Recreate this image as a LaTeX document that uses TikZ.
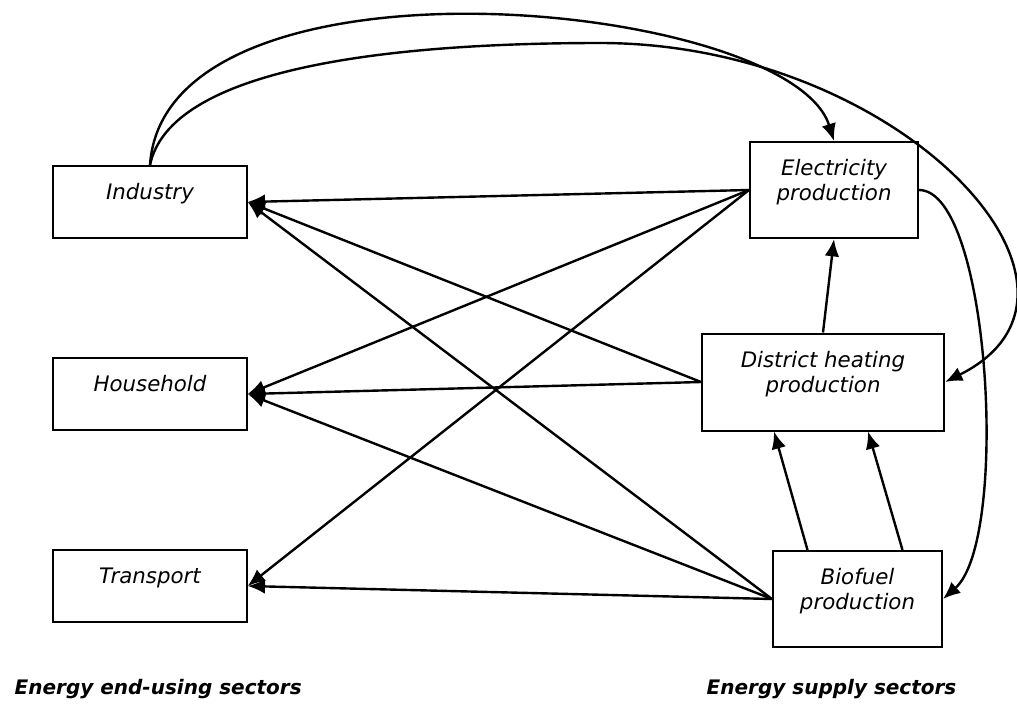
\documentclass[tikz,border=0pt]{standalone}
\usepackage{fontspec}
\setmainfont{DejaVu Sans}
\usetikzlibrary{
	positioning		% relative placement
	, arrows.meta		% Latex tips with set size
	, calc			% shifted anchors
}

\begin{document}
\begin{tikzpicture}[
		x=0.75pt, y=-0.75pt,
		sector/.style={
			rectangle,
			draw=black, line width=1.5pt,
			align=center,
			inner sep=0pt,
			font=\fontsize{16pt}{19pt}\selectfont\itshape,
			text height=12pt,
			text depth=15.5pt
		},
		sector two/.style={
			sector,
			text height=31pt
		},
		arrow/.style={
			->,
			line width=1.8pt
		},
		caption/.style={
			anchor=base west,
			font=\fontsize{15pt}{18pt}\selectfont\bfseries\itshape
		},
		>={Latex[length=13pt,width=11pt]}]

	\useasboundingbox (0,0) rectangle (1017,704);

	%%% Energy end-using sectors
	\node [sector, minimum width=145pt, minimum height=54pt] (industry) at (150,202) {Industry};
	\node [sector, minimum width=145pt, minimum height=54pt] (household) at (150,394) {Household};
	\node [sector, minimum width=145pt, minimum height=54pt] (transport) at (150,586) {Transport};

	%%% Energy supply sectors
	\node [sector two, minimum width=126pt, minimum height=72pt] (electricity) at (834,190) {Electricity\\production};
	\node [sector two, minimum width=181.5pt, minimum height=72.75pt] (district) at (823,382) {District heating\\production};
	\node [sector two, minimum width=126.75pt, minimum height=72pt] (biofuel) at (857.5,599) {Biofuel\\production};

	\node [caption] (enduse) at (10,694) {Energy end-using sectors};
	\node [caption] (supply) at (702,694) {Energy supply sectors};

	%%% Supply to end use
	\foreach \src/\dst in {electricity/industry, electricity/household, electricity/transport,
		district/industry, district/household,
		biofuel/industry, biofuel/household, biofuel/transport} {
		\path [arrow] (\src.west) edge (\dst.east);
	};

	%%% Flows between the supply sectors
	\draw [arrow] (district.north) -- (electricity.south);
	\draw [arrow] ($(biofuel.north)+(-50,0)$) -- ($(district.south)+(-49,0)$);
	\draw [arrow] ($(biofuel.north)+(45,0)$) -- ($(district.south)+(45,0)$);
	\draw [arrow] (electricity.east) .. controls (990,190) and (1010,540) .. (biofuel.east);

	%%% Arcs over the top
	\draw [arrow] (industry.north) .. controls (165,-60) and (790,0) .. (electricity.north);
	\draw [arrow] (industry.north) .. controls (170,70) and (380,43) .. (600,43)
		.. controls (900,43) and (1130,290) .. (district.east);

\end{tikzpicture}
\end{document}
